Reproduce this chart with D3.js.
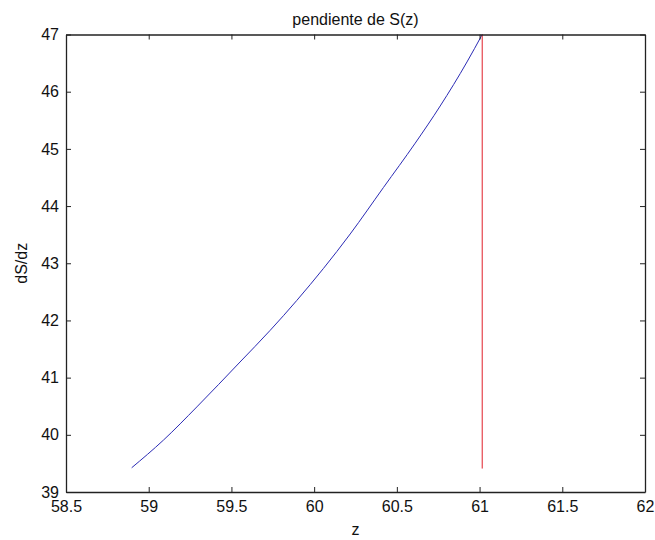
<!DOCTYPE html>
<html><head><meta charset="utf-8">
<script src="https://cdn.jsdelivr.net/npm/d3@7"></script>
<style>body{margin:0;background:#fff}svg{display:block}text{font-family:"Liberation Sans",Arial,sans-serif;fill:#111}</style>
</head><body><svg id="c" width="655" height="540"></svg>
<script>
const curveZ = [58.897, 59.089, 59.291, 59.552, 59.734, 59.895, 60.218, 60.419, 60.611, 60.762, 60.924, 61.016];
const curveS = [39.424, 39.907, 40.488, 41.273, 41.826, 42.349, 43.512, 44.325, 45.10, 45.75, 46.52, 47.0];
const redZ = [61.016, 61.016];
const redS = [39.41, 47.0];
const xTicks = [58.5, 59, 59.5, 60, 60.5, 61, 61.5, 62];
const yTicks = [39, 40, 41, 42, 43, 44, 45, 46, 47];
const titleText = "pendiente de S(z)";
const xLabel = "z";
const yLabel = "dS/dz";

const svg = d3.select("#c");
const L = 66, R = 645, T = 34.5, B = 492;
const x = d3.scaleLinear().domain([58.5, 62]).range([L, R]);
const y = d3.scaleLinear().domain([39, 47]).range([B, T]);
const fmt = d => String(d);

// data lines
const line = d3.line().x(d => x(d[0])).y(d => y(d[1])).curve(d3.curveMonotoneX);
svg.append("path").datum(d3.zip(curveZ, curveS)).attr("d", line)
  .attr("fill", "none").attr("stroke", "#2b2bb5").attr("stroke-width", 1);
svg.append("path").datum(d3.zip(redZ, redS)).attr("d", d3.line().x(d => x(d[0])).y(d => y(d[1])))
  .attr("fill", "none").attr("stroke", "#e0202a").attr("stroke-width", 1);

// axes
const tk = 5;
const gB = svg.append("g").attr("transform", `translate(0,${B})`)
  .call(d3.axisBottom(x).tickValues(xTicks).tickFormat(fmt).tickSizeInner(-tk).tickSizeOuter(0).tickPadding(9));
const gT = svg.append("g").attr("transform", `translate(0,${T})`)
  .call(d3.axisTop(x).tickValues(xTicks).tickFormat("").tickSizeInner(-tk).tickSizeOuter(0));
const gL = svg.append("g").attr("transform", `translate(${L},0)`)
  .call(d3.axisLeft(y).tickValues(yTicks).tickFormat(fmt).tickSizeInner(-tk).tickSizeOuter(0).tickPadding(7));
const gR = svg.append("g").attr("transform", `translate(${R},0)`)
  .call(d3.axisRight(y).tickValues(yTicks).tickFormat("").tickSizeInner(-tk).tickSizeOuter(0));
[gB, gT, gL, gR].forEach(g => {
  g.selectAll(".domain").attr("stroke", "#222").attr("stroke-width", 1.3);
  g.selectAll(".tick line").attr("stroke", "#222").attr("stroke-width", 1);
  g.selectAll(".tick text").attr("font-size", 16).attr("font-family", "Liberation Sans, Arial, sans-serif").attr("fill", "#111");
});
gB.selectAll(".tick text").attr("dy", "0.71em");

svg.append("text").attr("x", (L + R) / 2).attr("y", 25).attr("text-anchor", "middle")
  .attr("font-size", 16).text(titleText);
svg.append("text").attr("x", (L + R) / 2).attr("y", 535).attr("text-anchor", "middle")
  .attr("font-size", 16).text(xLabel);
svg.append("text").attr("transform", `translate(27,${(T + B) / 2}) rotate(-90)`).attr("text-anchor", "middle")
  .attr("font-size", 16).text(yLabel);
</script></body></html>
